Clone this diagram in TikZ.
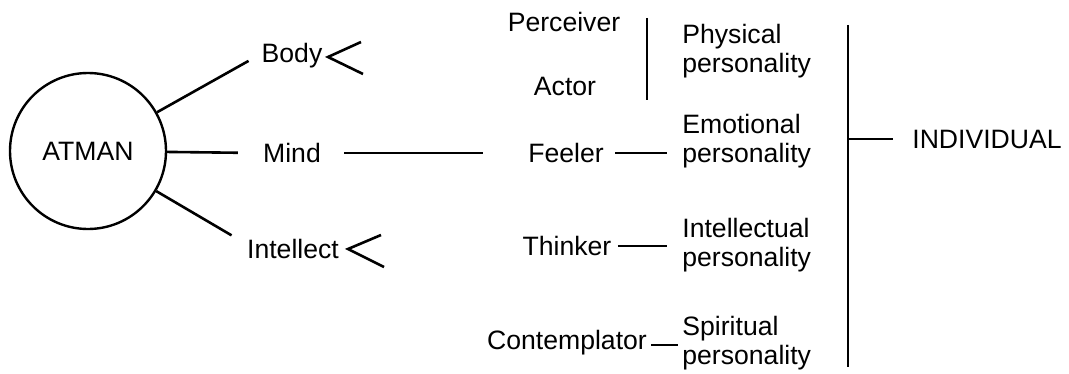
\documentclass[tikz,border=0pt]{standalone}
\usepackage{fontspec}
\setmainfont{Liberation Sans}
\usepackage{tikz}
\usetikzlibrary{positioning}

\begin{document}
\begin{tikzpicture}[
  x=0.5pt, y=-0.5pt,
  font=\fontsize{13.3}{14.6}\selectfont,
  word/.style    ={inner sep=2pt},
  pers/.style    ={inner sep=2pt, anchor=west, align=left},
  self/.style    ={circle, draw, line width=1.2pt, minimum size=78pt, inner sep=0pt},
  link/.style    ={line width=1.3pt},
  bar/.style     ={line width=1.4pt}
]
\useasboundingbox (0,0) rectangle (1069,374);

% ---------- Left: the self and its three sheaths ----------
\node[self] (atman)     at (88,151)  {ATMAN};
\node[word] (body)      at (292,56)  {Body};
\node[word] (mind)      at (292,153) {Mind};
\node[word] (intellect) at (293,249) {Intellect};

% ---------- Middle: the functions ----------
\node[word] (perceiver)    at (564,22)  {Perceiver};
\node[word] (actor)        at (565,86)  {Actor};
\node[word] (feeler)       at (566,153) {Feeler};
\node[word] (thinker)      at (567,246) {Thinker};
\node[word] (contemplator) at (567,343) {Contemplator};

% ---------- Right: the personalities ----------
\node[pers] (phys) at (678,51)  {Physical\\personality};
\node[pers] (emo)  at (678,141) {Emotional\\personality};
\node[pers] (intl) at (678,245) {Intellectual\\personality};
\node[pers] (spir) at (678,343) {Spiritual\\personality};
\node[word] (individual) at (987,139) {INDIVIDUAL};

% ---------- Free ends ----------
\coordinate (pa top)  at (647,18);
\coordinate (pa bot)  at (647,100);
\coordinate (all top) at (848,25);
\coordinate (all bot) at (848,367);
\coordinate (body up)   at (361,42);
\coordinate (body tip)  at (328,57);
\coordinate (body dn)   at (363,74);
\coordinate (int up)    at (381,235);
\coordinate (int tip)   at (348,249);
\coordinate (int dn)    at (384,267);

% ---------- Connectors ----------
\draw[link, shorten >=5pt]  (atman) -- (body.west);
\draw[link, shorten >=10.5pt] (atman) -- (mind.west);
\draw[link, shorten >=6.5pt] (atman) -- (intellect.172);

\draw[link] (body up) -- (body tip) -- (body dn);
\draw[link] (int up) -- (int tip) -- (int dn);

\draw[link, shorten <=9.5pt, shorten >=20.5pt] (mind) -- (feeler);
\draw[link, shorten <=3.5pt, shorten >=5.5pt] (feeler.east) -- (feeler.east -| emo.west);
\draw[link, shorten <=1pt, shorten >=5.5pt] (thinker.east) -- (thinker.east -| intl.west);
\draw[link] ([yshift=-1pt]contemplator.east) -- ([yshift=-1pt]contemplator.east -| spir.west);

\draw[bar] (pa top) -- (pa bot);
\draw[bar] (all top) -- (all bot);
\draw[link, shorten >=7.5pt] (all top |- individual) -- (individual.west);

\end{tikzpicture}
\end{document}
